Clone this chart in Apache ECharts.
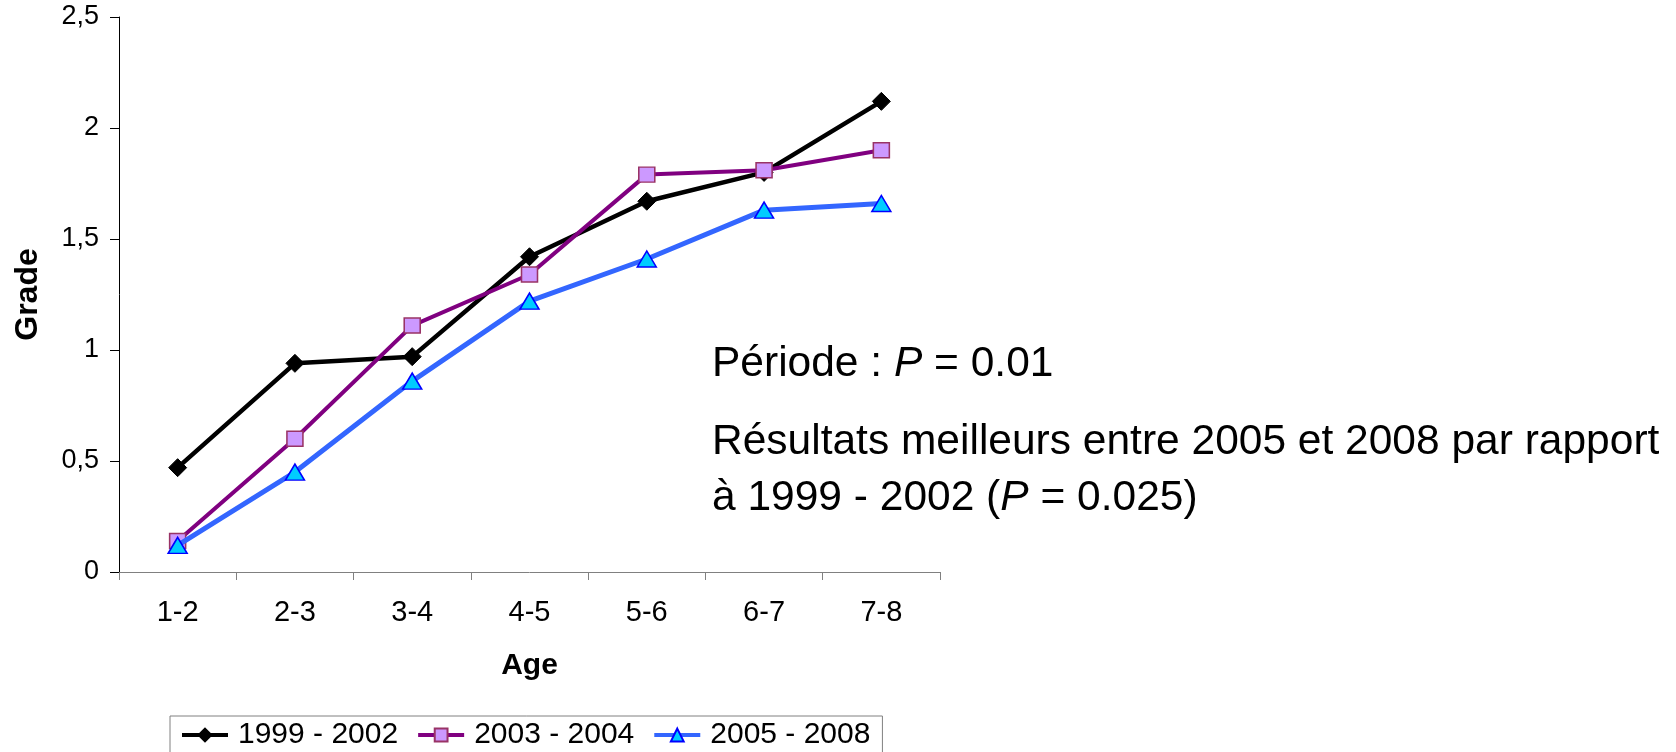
<!DOCTYPE html>
<html>
<head>
<meta charset="utf-8">
<script src="https://cdn.jsdelivr.net/npm/echarts@6/dist/echarts.min.js"></script>
<style>
  html, body { margin: 0; padding: 0; background: #fff; }
  #chart { width: 1676px; height: 752px; }
</style>
</head>
<body>
<div id="chart"></div>
<script>
// age groups on the x axis
const ages = ['1-2', '2-3', '3-4', '4-5', '5-6', '6-7', '7-8'];

// mean grade per period
const p1999 = [0.47, 0.94, 0.97, 1.42, 1.67, 1.80, 2.12];
const p2003 = [0.14, 0.60, 1.11, 1.34, 1.79, 1.81, 1.90];
const p2005 = [0.12, 0.45, 0.86, 1.22, 1.41, 1.63, 1.66];

const seriesNames = ['1999 - 2002', '2003 - 2004', '2005 - 2008'];

const FONT = '"Liberation Sans", Arial, sans-serif';
const NOTE = '42.5px ' + FONT;
const NOTE_I = 'italic 42.5px ' + FONT;

const chart = echarts.init(document.getElementById('chart'));

const option = {
  backgroundColor: '#fff',
  animation: false,
  textStyle: { fontFamily: FONT, color: '#000' },
  grid: { left: 119, top: 17, width: 821, height: 555 },
  xAxis: {
    type: 'category',
    data: ages,
    boundaryGap: true,
    name: 'Age',
    nameLocation: 'middle',
    nameGap: 79,
    nameTextStyle: { fontFamily: FONT, fontSize: 30, fontWeight: 'bold', color: '#000' },
    axisLine: { lineStyle: { color: '#808080', width: 1 } },
    axisTick: { show: true, length: 8, lineStyle: { color: '#808080' } },
    axisLabel: { fontFamily: FONT, fontSize: 29, color: '#000', margin: 26 },
    splitLine: { show: false }
  },
  yAxis: {
    type: 'value',
    min: 0,
    max: 2.5,
    interval: 0.5,
    name: 'Grade',
    nameLocation: 'middle',
    nameGap: 75,
    nameTextStyle: { fontFamily: FONT, fontSize: 32, fontWeight: 'bold', color: '#000' },
    axisLine: { show: true, lineStyle: { color: '#000', width: 1 } },
    axisTick: { show: true, length: 9, lineStyle: { color: '#000' } },
    axisLabel: {
      fontFamily: FONT, fontSize: 27, color: '#000', margin: 20,
      formatter: v => String(v).replace('.', ',')
    },
    splitLine: { show: false }
  },
  legend: {
    data: seriesNames,
    left: 170,
    top: 716,
    orient: 'horizontal',
    padding: [4, 12, 30, 10],
    itemWidth: 46,
    itemHeight: 16,
    itemGap: 18,
    borderColor: '#808080',
    borderWidth: 1,
    lineStyle: { width: 4 },
    textStyle: { fontFamily: FONT, fontSize: 30, color: '#000', padding: [0, 0, 0, 5] }
  },
  graphic: [
    {
      type: 'text', left: 712, top: 343,
      style: {
        text: '{n|Période : }{i|P}{n| = 0.01}',
        rich: { n: { font: NOTE, fill: '#000' }, i: { font: NOTE_I, fill: '#000' } }
      }
    },
    {
      type: 'text', left: 712, top: 421,
      style: {
        text: 'Résultats meilleurs entre 2005 et 2008 par rapport',
        font: NOTE, fill: '#000'
      }
    },
    {
      type: 'text', left: 712, top: 477,
      style: {
        text: '{n|à 1999 - 2002 (}{i|P}{n| = 0.025)}',
        rich: { n: { font: NOTE, fill: '#000' }, i: { font: NOTE_I, fill: '#000' } }
      }
    }
  ],
  series: [
    {
      name: seriesNames[0],
      type: 'line',
      data: p1999,
      symbol: 'diamond',
      symbolSize: [18, 18],
      lineStyle: { color: '#000', width: 4.5 },
      itemStyle: { color: '#000', borderColor: '#000', borderWidth: 1 },
      z: 3
    },
    {
      name: seriesNames[1],
      type: 'line',
      data: p2003,
      symbol: 'rect',
      symbolSize: [16, 15],
      lineStyle: { color: '#800080', width: 4 },
      itemStyle: { color: '#CC99FF', borderColor: '#993366', borderWidth: 1.5 },
      z: 4
    },
    {
      name: seriesNames[2],
      type: 'line',
      data: p2005,
      symbol: 'triangle',
      symbolSize: [19, 16],
      lineStyle: { color: '#3366FF', width: 5 },
      itemStyle: { color: '#00CCFF', borderColor: '#0000FF', borderWidth: 1.5 },
      z: 5
    }
  ]
};

chart.setOption(option);
</script>
</body>
</html>
